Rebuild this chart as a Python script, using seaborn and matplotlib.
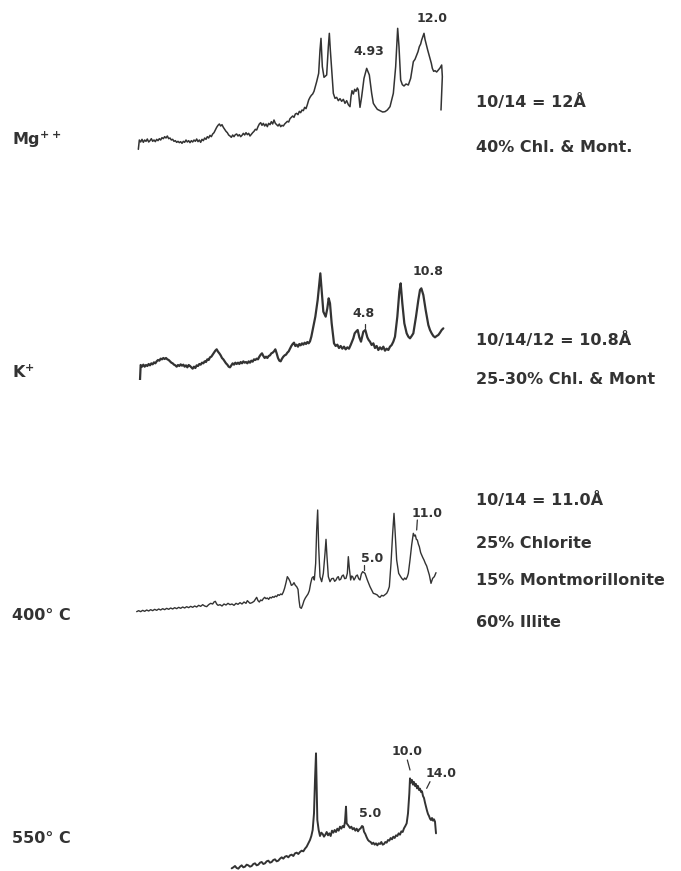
import numpy as np
import pandas as pd
import seaborn as sns
import matplotlib.pyplot as plt

# X-ray diffraction traces, clay fraction: Mg, K saturated, heated 400 and 550 C
# (chart position on recorder paper, pen deflection)

mg_trace = [(25, 12), (28, 40), (32, 34), (36, 42), (40, 33), (44, 40), (48, 36), (52, 43), (56, 34),
            (60, 38), (64, 44), (68, 36), (72, 40), (76, 35), (80, 42), (84, 38), (88, 44), (92, 40),
            (96, 47), (100, 44), (104, 50), (108, 46), (112, 52), (116, 44), (120, 46), (124, 40),
            (128, 42), (132, 36), (136, 38), (140, 33), (144, 36), (148, 32), (152, 35), (156, 30),
            (160, 36), (164, 33), (168, 40), (172, 34), (176, 38), (180, 32), (184, 38), (188, 34),
            (192, 40), (196, 36), (200, 43), (204, 35), (208, 40), (212, 33), (216, 42), (220, 38),
            (224, 46), (228, 42), (232, 50), (236, 46), (240, 54), (244, 50), (248, 58), (252, 62),
            (256, 70), (260, 78), (264, 84), (268, 88), (272, 82), (276, 86), (280, 78), (284, 72),
            (288, 66), (292, 62), (296, 55), (300, 52), (304, 48), (308, 55), (312, 50), (316, 56),
            (320, 58), (324, 52), (328, 56), (332, 50), (336, 54), (340, 60), (344, 55), (348, 62),
            (352, 56), (356, 60), (360, 52), (364, 57), (368, 62), (372, 66), (376, 72), (380, 70),
            (384, 80), (388, 88), (392, 92), (396, 84), (400, 90), (404, 82), (408, 88), (412, 80),
            (416, 90), (420, 86), (424, 95), (428, 88), (432, 100), (436, 90), (440, 86), (444, 82),
            (448, 88), (452, 80), (456, 84), (460, 82), (464, 88), (468, 92), (472, 96), (476, 94),
            (480, 104), (484, 108), (488, 112), (492, 108), (496, 118), (500, 120), (504, 116),
            (508, 126), (512, 122), (516, 130), (520, 128), (524, 138), (528, 134), (532, 146),
            (536, 160), (540, 168), (544, 174), (548, 178), (552, 186), (556, 200), (560, 215),
            (566, 240), (570, 310), (573, 345), (577, 260), (582, 228), (590, 235), (595, 320),
            (598, 360), (601, 310), (606, 240), (610, 180), (615, 165), (620, 168), (625, 158),
            (630, 164), (635, 156), (640, 162), (645, 150), (650, 158), (655, 146), (660, 140),
            (663, 170), (666, 188), (670, 178), (674, 192), (678, 186), (682, 196), (685, 190),
            (690, 138), (695, 170), (702, 225), (710, 255), (718, 235), (725, 180), (730, 150),
            (735, 142), (742, 132), (750, 128), (758, 124), (765, 125), (772, 130), (780, 140),
            (790, 180), (797, 260), (803, 375), (807, 320), (812, 220), (817, 206), (822, 202),
            (828, 208), (835, 205), (842, 225), (850, 275), (855, 282), (860, 295), (864, 305),
            (868, 320), (872, 328), (875, 340), (882, 360), (885, 342), (888, 330), (893, 310),
            (900, 285), (904, 270), (907, 255), (911, 246), (915, 248), (920, 244), (925, 250),
            (930, 256), (935, 265), (937, 230), (933, 130)]

k_trace = [(30, 10), (32, 55), (36, 50), (40, 56), (44, 50), (48, 55), (52, 52), (56, 58), (60, 54),
           (64, 60), (68, 57), (72, 63), (76, 60), (80, 66), (84, 70), (88, 68), (92, 74), (96, 72),
           (100, 76), (104, 73), (108, 76), (112, 72), (116, 70), (120, 66), (124, 62), (128, 60),
           (132, 56), (136, 54), (140, 50), (144, 55), (148, 52), (152, 57), (156, 53), (160, 56),
           (164, 50), (168, 54), (172, 48), (176, 55), (180, 52), (184, 48), (188, 44), (192, 50),
           (196, 46), (200, 54), (204, 52), (208, 58), (212, 56), (216, 62), (220, 60), (224, 66),
           (228, 64), (232, 72), (236, 70), (240, 78), (244, 80), (248, 86), (252, 92), (256, 98),
           (260, 102), (264, 95), (268, 90), (272, 84), (276, 76), (280, 72), (284, 66), (288, 60),
           (292, 56), (296, 50), (300, 48), (304, 54), (308, 60), (312, 56), (316, 62), (320, 58),
           (324, 62), (328, 58), (332, 64), (336, 60), (340, 66), (344, 62), (348, 64), (352, 60),
           (356, 66), (360, 62), (364, 68), (368, 65), (372, 72), (376, 70), (380, 74), (384, 72),
           (388, 80), (392, 86), (396, 90), (400, 82), (404, 76), (408, 80), (412, 76), (416, 82),
           (420, 84), (424, 90), (428, 92), (432, 96), (436, 102), (440, 90), (444, 76), (448, 68),
           (452, 66), (456, 74), (460, 80), (464, 84), (468, 86), (472, 92), (476, 96), (480, 104),
           (484, 112), (488, 118), (492, 122), (496, 112), (500, 116), (504, 110), (508, 118),
           (512, 114), (516, 120), (520, 116), (524, 122), (528, 118), (532, 124), (536, 120),
           (540, 126), (544, 140), (548, 160), (556, 200), (563, 250), (568, 300), (571, 330),
           (575, 280), (580, 215), (587, 200), (592, 225), (596, 255), (600, 240), (605, 180),
           (612, 120), (617, 112), (622, 116), (627, 106), (632, 112), (637, 104), (642, 110),
           (647, 102), (652, 108), (657, 104), (662, 115), (666, 125), (670, 135), (674, 150),
           (678, 155), (683, 160), (688, 138), (693, 125), (700, 155), (706, 160), (712, 138),
           (716, 130), (720, 125), (725, 115), (730, 120), (735, 106), (740, 112), (745, 100),
           (750, 108), (755, 102), (760, 110), (765, 98), (770, 104), (775, 100), (780, 110),
           (785, 115), (790, 125), (795, 140), (802, 200), (808, 275), (812, 300), (817, 240),
           (823, 180), (830, 150), (835, 140), (840, 135), (845, 142), (850, 150), (858, 200),
           (865, 250), (870, 280), (874, 285), (880, 265), (887, 220), (895, 175), (900, 160),
           (905, 150), (910, 142), (915, 138), (920, 142), (925, 145), (930, 152), (935, 160),
           (940, 165)]

h400_trace = [(20, 5), (26, 8), (32, 5), (38, 9), (44, 6), (50, 10), (56, 7), (62, 11), (68, 8),
              (74, 12), (80, 9), (86, 13), (92, 10), (98, 14), (104, 11), (110, 15), (116, 12),
              (122, 16), (128, 13), (134, 17), (140, 14), (146, 18), (152, 15), (158, 19), (164, 16),
              (170, 20), (176, 17), (182, 21), (188, 18), (194, 22), (200, 19), (206, 24), (212, 21),
              (218, 26), (224, 22), (230, 20), (236, 26), (242, 30), (248, 28), (252, 34), (256, 36),
              (260, 28), (264, 24), (270, 26), (276, 22), (282, 28), (288, 25), (294, 30), (300, 26),
              (306, 28), (312, 24), (318, 30), (324, 27), (330, 32), (336, 28), (342, 34), (348, 30),
              (352, 38), (356, 34), (360, 30), (366, 32), (372, 36), (376, 42), (380, 48), (384, 38),
              (388, 34), (392, 40), (396, 38), (400, 44), (404, 48), (408, 44), (412, 46), (416, 42),
              (420, 48), (424, 46), (428, 50), (432, 48), (436, 52), (440, 50), (444, 56), (448, 54),
              (452, 58), (456, 56), (460, 64), (464, 76), (468, 92), (472, 110), (476, 104), (480, 96),
              (484, 84), (488, 86), (492, 92), (496, 84), (500, 80), (504, 72), (507, 40), (510, 18),
              (514, 15), (518, 25), (522, 38), (526, 46), (530, 52), (534, 58), (538, 68), (542, 90),
              (546, 106), (550, 110), (553, 100), (557, 150), (560, 250), (563, 310), (566, 200),
              (570, 110), (575, 95), (580, 120), (585, 180), (588, 222), (591, 170), (595, 110),
              (600, 95), (605, 104), (610, 105), (614, 96), (618, 100), (622, 108), (625, 110),
              (628, 100), (632, 102), (636, 112), (640, 115), (644, 104), (648, 105), (652, 120),
              (655, 170), (658, 135), (662, 100), (665, 112), (668, 110), (672, 100), (675, 105),
              (678, 112), (682, 115), (686, 104), (690, 100), (694, 118), (698, 125), (705, 120),
              (712, 100), (716, 90), (720, 80), (725, 70), (730, 60), (736, 58), (742, 55), (746, 50),
              (750, 48), (755, 54), (760, 52), (765, 56), (770, 60), (774, 68), (778, 80), (783, 150),
              (788, 240), (792, 300), (795, 250), (800, 160), (806, 120), (812, 110), (816, 104),
              (820, 100), (824, 106), (828, 102), (832, 110), (835, 120), (840, 160), (845, 205),
              (850, 240), (853, 232), (856, 235), (859, 222), (862, 220), (865, 208), (868, 200),
              (872, 182), (875, 175), (878, 168), (882, 160), (886, 150), (890, 142), (894, 128),
              (898, 115), (903, 90), (908, 105), (913, 110), (918, 122)]

h550_trace = [(95, 15), (100, 18), (105, 22), (110, 16), (115, 14), (120, 20), (125, 24), (130, 18),
              (135, 20), (140, 26), (145, 24), (150, 20), (155, 22), (160, 28), (165, 30), (170, 24),
              (175, 26), (180, 32), (185, 34), (190, 28), (195, 30), (200, 36), (205, 38), (210, 32),
              (215, 34), (220, 40), (225, 42), (230, 36), (235, 38), (240, 44), (245, 48), (250, 44),
              (255, 50), (260, 52), (265, 48), (270, 54), (275, 56), (280, 52), (285, 60), (290, 62),
              (295, 58), (300, 64), (305, 68), (310, 66), (315, 74), (320, 80), (325, 90), (330, 100),
              (334, 112), (338, 130), (342, 180), (345, 280), (348, 360), (350, 260), (352, 160),
              (356, 130), (360, 112), (364, 122), (368, 118), (372, 110), (376, 116), (380, 124),
              (384, 114), (388, 120), (392, 112), (396, 128), (400, 122), (404, 130), (408, 124),
              (412, 134), (416, 128), (420, 140), (424, 134), (428, 142), (432, 138), (435, 155),
              (438, 200), (440, 150), (446, 142), (450, 136), (454, 140), (458, 132), (462, 136),
              (466, 128), (470, 134), (474, 126), (478, 132), (482, 135), (486, 142), (489, 140),
              (492, 125), (496, 118), (500, 108), (504, 100), (508, 96), (512, 94), (516, 88),
              (520, 92), (524, 86), (528, 90), (532, 84), (536, 90), (540, 88), (544, 94), (548, 86),
              (552, 88), (556, 94), (560, 92), (564, 100), (568, 98), (572, 106), (576, 102),
              (580, 110), (584, 106), (588, 114), (592, 112), (596, 120), (600, 116), (604, 126),
              (608, 124), (612, 135), (616, 142), (620, 150), (624, 180), (628, 240), (630, 285),
              (633, 272), (636, 280), (639, 266), (642, 274), (645, 262), (648, 268), (651, 255),
              (654, 262), (657, 250), (660, 254), (663, 244), (666, 246), (669, 232), (672, 226),
              (675, 212), (678, 200), (681, 188), (684, 178), (687, 172), (690, 164), (693, 160),
              (696, 166), (699, 158), (702, 162), (705, 155), (708, 120)]

left_labels = [r"Mg$^{++}$", r"K$^{+}$", "400° C", "550° C"]
right_notes = [["10/14 = 12Å", "40% Chl. & Mont."],
               ["10/14/12 = 10.8Å", "25-30% Chl. & Mont"],
               ["10/14 = 11.0Å", "25% Chlorite", "15% Montmorillonite", "60% Illite"]]

ink = "#333333"
W, H = 681, 871

sns.set_style("white")
plt.rcParams["font.family"] = ["DejaVu Sans"]
plt.rcParams["mathtext.default"] = "bf"
fig = plt.figure(figsize=(W / 100, H / 100), dpi=100)
fig.patch.set_facecolor("white")


def panel(x0, y0, w, h):
    return fig.add_axes([x0 / W, 1 - (y0 + h) / H, w / W, h / H])


def trace(ax, pts, xlim, ylim, lw):
    arr = np.array(pts)
    df = pd.DataFrame({"pos": arr[:, 0], "int": arr[:, 1]})
    sns.lineplot(data=df, x="pos", y="int", ax=ax, sort=False, estimator=None,
                 color=ink, linewidth=lw)
    ax.set_xlim(*xlim)
    ax.set_ylim(*ylim)
    ax.axis("off")


def peak(ax, txt, x, y, tick=None):
    ax.text(x, y, txt, fontsize=9, fontweight="bold", color=ink, ha="center", va="center")
    if tick is not None:
        ax.plot(tick[0], tick[1], color=ink, lw=0.9)


ax1 = panel(130, 0, 320, 180)
trace(ax1, mg_trace, (0, 960), (-80, 460), 1.1)
peak(ax1, "4.93", 715, 305)
peak(ax1, "12.0", 905, 405)

ax2 = panel(130, 250, 320, 130)
trace(ax2, k_trace, (0, 960), (10, 400), 1.6)
peak(ax2, "4.8", 700, 210, ([705, 705], [178, 165]))
peak(ax2, "10.8", 895, 335)

ax3 = panel(130, 480, 320, 135)
trace(ax3, h400_trace, (0, 960), (-5, 400), 1.0)
peak(ax3, "5.0", 725, 165, ([703, 703], [145, 130]))
peak(ax3, "11.0", 890, 300, ([862, 860], [280, 250]))

ax4 = panel(200, 720, 250, 151)
trace(ax4, h550_trace, (0, 750), (7, 460), 1.4)
peak(ax4, "10.0", 620, 365, ([622, 630], [340, 310]))
peak(ax4, "14.0", 722, 300, ([690, 680], [275, 255]))
peak(ax4, "5.0", 510, 180)

# left labels
for lab, y in zip(left_labels, [140, 372, 615, 838]):
    fig.text(12 / W, 1 - y / H, lab, fontsize=11.5, fontweight="bold", color=ink,
             va="center", ha="left")

# right notes
for lines, ys in zip(right_notes, [[102, 147], [340, 380], [500, 543, 580, 622]]):
    for t, y in zip(lines, ys):
        fig.text(476 / W, 1 - y / H, t, fontsize=11.5, fontweight="bold", color=ink,
                 va="center", ha="left")

fig.savefig("out.png", dpi=100, facecolor="white")
